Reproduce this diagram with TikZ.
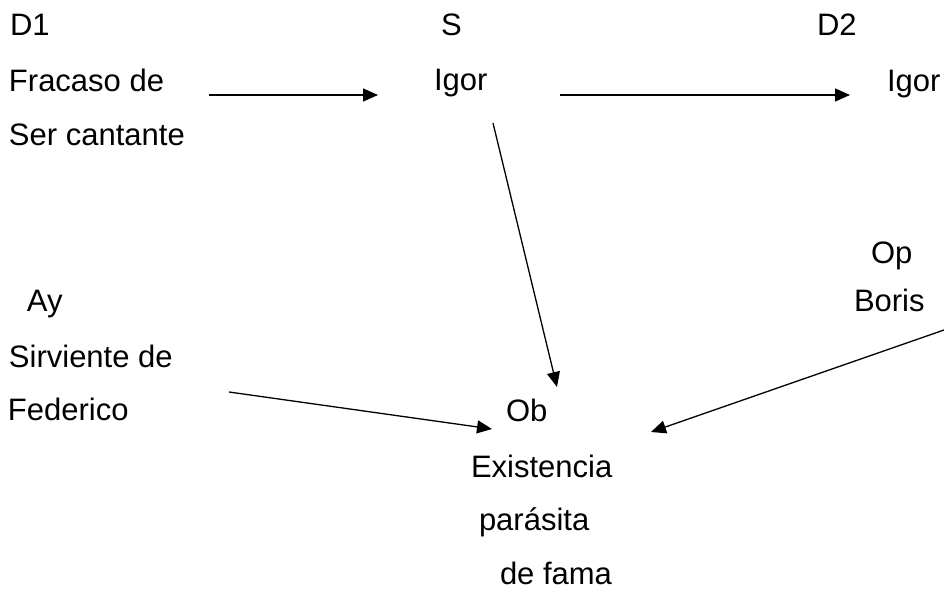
\documentclass[tikz,border=0pt]{standalone}
\usepackage{fontspec}
\setmainfont{Liberation Sans}
\usetikzlibrary{arrows.meta}
\tikzset{
  lbl/.style={anchor=base west, inner sep=0pt, outer sep=0pt, font=\fontsize{31}{37}\selectfont},
  conn/.style={line width=1.5pt, -{Triangle[length=15pt,width=13pt]}},
  diag/.style={line width=1.3pt, -{Triangle[length=15pt,width=13pt]}}
}
\begin{document}
\begin{tikzpicture}[x=1pt,y=-1pt]
\useasboundingbox (0,0) rectangle (944,591);
% labels
\node[lbl] (d1) at (10,36) {D1};
\node[lbl] (d1a) at (9,92) {Fracaso de};
\node[lbl] (d1b) at (9,146) {Ser cantante};
\node[lbl] (s) at (441,36) {S};
\node[lbl] (sa) at (434,91) {Igor};
\node[lbl] (d2) at (817,36) {D2};
\node[lbl] (d2a) at (887,92) {Igor};
\node[lbl] (op) at (871,263) {Op};
\node[lbl] (opa) at (854,311) {Boris};
\node[lbl] (ay) at (27,311) {Ay};
\node[lbl] (aya) at (9,367) {Sirviente de};
\node[lbl] (ayb) at (8,420) {Federico};
\node[lbl] (ob) at (506,421) {Ob};
\node[lbl] (oba) at (471,477) {Existencia};
\node[lbl] (obb) at (479,530) {parásita};
\node[lbl] (obc) at (500,584) {de fama};
% connector ends
\coordinate (a1s) at (209,95);
\coordinate (a1e) at (378,95);
\coordinate (a2s) at (560,95);
\coordinate (a2e) at (850,95);
\coordinate (a3s) at (493,123);
\coordinate (a3e) at (557,387);
\coordinate (a4s) at (229,392);
\coordinate (a4e) at (492,429);
\coordinate (a5s) at (944,330);
\coordinate (a5e) at (651,432);
% connectors
\draw[conn] (a1s) -- (a1e);
\draw[conn] (a2s) -- (a2e);
\draw[diag] (a3s) -- (a3e);
\draw[diag] (a4s) -- (a4e);
\draw[diag] (a5s) -- (a5e);
\end{tikzpicture}
\end{document}
